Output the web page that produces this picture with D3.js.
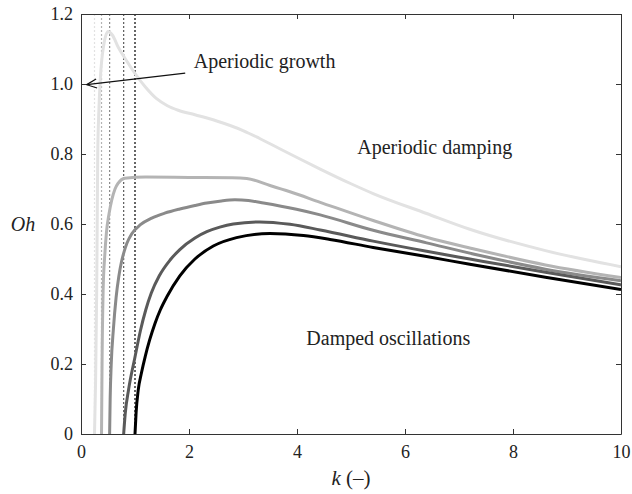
<!DOCTYPE html>
<html lang="en">
<head>
<meta charset="UTF-8">
<title>Oh vs k</title>
<script src="https://cdn.jsdelivr.net/npm/d3@7"></script>
<style>
    body{margin:0;background:#fff}
    svg{display:block}
    svg text{font-family:"Liberation Serif","Times New Roman",Times,"DejaVu Serif","Noto Serif",serif !important}
</style>
</head>
<body>
<div class="chart"></div>
<script>
    //data
    let kStart=[0.25,0.38,0.53,0.79,1.0]
    let k1=[0.25,0.27,0.29,0.30,0.31,0.33,0.36,0.42,0.50,0.58,0.69,0.85,1.0,1.2,1.4,1.6,1.8,2.11,2.5,3.0,3.3,3.68,4.0,4.43,5.0,5.41,6.4,7.2,8.6,10]
    let oh1=[0,0.15,0.4,0.6,0.8,0.92,1.02,1.11,1.15,1.14,1.105,1.065,1.03,0.99,0.958,0.938,0.925,0.912,0.895,0.867,0.845,0.815,0.79,0.757,0.715,0.687,0.63,0.585,0.524,0.478]
    let k2=[0.38,0.385,0.39,0.41,0.44,0.47,0.52,0.57,0.63,0.69,0.81,1.2,2.0,2.8,3.07,3.5,3.87,4.43,5.41,6.4,7.3,8.6,10]
    let oh2=[0,0.1,0.2,0.41,0.51,0.574,0.63,0.669,0.70,0.717,0.731,0.734,0.733,0.732,0.730,0.71,0.692,0.662,0.610,0.562,0.528,0.483,0.447]
    let k3=[0.53,0.54,0.56,0.60,0.65,0.70,0.75,0.80,0.85,0.94,1.1,1.31,1.55,1.83,2.11,2.33,2.6,2.85,3.1,3.38,3.99,4.43,5.41,6.4,7.39,8.6,10]
    let oh3=[0,0.1,0.2,0.3,0.39,0.45,0.492,0.522,0.545,0.572,0.598,0.617,0.631,0.643,0.653,0.66,0.666,0.669,0.667,0.66,0.642,0.626,0.582,0.546,0.51,0.471,0.438]
    let k4=[0.79,0.82,0.88,1.0,1.1,1.2,1.3,1.45,1.65,1.83,2.11,2.33,2.57,2.82,3.31,3.87,4.43,5.41,6.4,7.2,8.6,10]
    let oh4=[0,0.06,0.126,0.22,0.295,0.355,0.402,0.452,0.497,0.527,0.56,0.578,0.591,0.6,0.606,0.599,0.583,0.551,0.522,0.5,0.462,0.426]
    let k5=[1.0,1.02,1.06,1.12,1.19,1.27,1.37,1.47,1.59,1.83,2.11,2.45,2.88,3.5,4.12,4.61,5.41,6.4,7.2,8.6,10]
    let oh5=[0,0.06,0.126,0.175,0.222,0.268,0.316,0.355,0.392,0.452,0.50,0.537,0.561,0.573,0.567,0.556,0.533,0.507,0.485,0.448,0.413]
    let xTicks=[0,2,4,6,8,10]
    let yTicks=[0,0.2,0.4,0.6,0.8,1.0,1.2]
    let colors=['#e2e2e2','#b4b4b4','#8a8a8a','#5a5a5a','#000000']

    let series=[[k1,oh1],[k2,oh2],[k3,oh3],[k4,oh4],[k5,oh5]]
        .map(s=>s[0].map((k,i)=>({k:k,oh:s[1][i]})))

    //frame
    let W=632,H=494
    let m={left:81,right:11,top:14,bottom:60}
    let w=W-m.left-m.right,h=H-m.top-m.bottom
    let svg=d3.select('.chart').append('svg').attr('width',W).attr('height',H)
    let g=svg.append('g').attr('transform','translate('+m.left+','+m.top+')')
    let x=d3.scaleLinear().domain([0,10]).range([0,w])
    let y=d3.scaleLinear().domain([0,1.2]).range([h,0])

    let defs=svg.append('defs')
    defs.append('clipPath').attr('id','clip').append('rect').attr('width',w).attr('height',h)

    //dotted asymptotes
    g.append('g').selectAll('line').data(kStart).join('line')
        .attr('x1',d=>x(d)).attr('x2',d=>x(d)).attr('y1',0).attr('y2',h)
        .attr('stroke',(d,i)=>colors[i]).attr('stroke-width',1.2)
        .attr('stroke-dasharray','2,2')

    //curves
    let line=d3.line().x(d=>x(d.k)).y(d=>y(d.oh)).curve(d3.curveMonotoneX)
    g.append('g').attr('clip-path','url(#clip)').selectAll('path').data(series).join('path')
        .attr('d',line).attr('fill','none')
        .attr('stroke',(d,i)=>colors[i]).attr('stroke-width',3)
        .attr('stroke-linejoin','round')

    //axes
    let fmt=d=>d===0?'0':d3.format('.1f')(d)
    let ax=[
        g.append('g').attr('transform','translate(0,'+h+')')
            .call(d3.axisBottom(x).tickValues(xTicks).tickSize(-5).tickSizeOuter(0).tickPadding(11).tickFormat(d3.format('d'))),
        g.append('g')
            .call(d3.axisLeft(y).tickValues(yTicks).tickSize(-5).tickSizeOuter(0).tickPadding(8).tickFormat(fmt)),
        g.append('g')
            .call(d3.axisTop(x).tickValues(xTicks).tickSize(-5).tickSizeOuter(0).tickFormat('')),
        g.append('g').attr('transform','translate('+w+',0)')
            .call(d3.axisRight(y).tickValues(yTicks).tickSize(-5).tickSizeOuter(0).tickFormat(''))
    ]
    ax.forEach(a=>{
        a.attr('font-family',null)
        a.select('.domain').attr('stroke','#333')
        a.selectAll('.tick line').attr('stroke','#333')
        a.selectAll('.tick text').attr('font-size',18).attr('fill','#222')
    })

    //axis titles
    g.append('text').attr('x',-m.left+23).attr('y',y(0.6)).attr('dy','0.35em')
        .attr('text-anchor','middle').attr('font-size',20).attr('fill','#222')
        .attr('font-style','italic').text('Oh')
    let xl=g.append('text').attr('x',x(5)).attr('y',h+51)
        .attr('text-anchor','middle').attr('font-size',21).attr('fill','#222')
    xl.append('tspan').attr('font-style','italic').text('k')
    xl.append('tspan').text(' (–)')

    //annotations
    let notes=[
        {t:'Aperiodic growth',k:3.4,oh:1.046},
        {t:'Aperiodic damping',k:6.55,oh:0.8},
        {t:'Damped oscillations',k:5.69,oh:0.254}
    ]
    g.append('g').selectAll('text').data(notes).join('text')
        .attr('x',d=>x(d.k)).attr('y',d=>y(d.oh))
        .attr('text-anchor','middle').attr('font-size',20).attr('fill','#222')
        .text(d=>d.t)

    //arrow
    defs.append('marker').attr('id','arr')
        .attr('markerUnits','userSpaceOnUse').attr('viewBox','-11 -6 12 12')
        .attr('refX',0).attr('refY',0).attr('markerWidth',12).attr('markerHeight',12)
        .attr('orient','auto')
        .append('path').attr('d','M-10,-4.5L0,0L-10,4.5').attr('fill','none')
        .attr('stroke','#111').attr('stroke-width',1.2)
    g.append('line').attr('x1',x(1.93)).attr('y1',y(1.031)).attr('x2',x(0.105)).attr('y2',y(0.998))
        .attr('stroke','#111').attr('stroke-width',1.2).attr('marker-end','url(#arr)')
</script>
</body>
</html>
